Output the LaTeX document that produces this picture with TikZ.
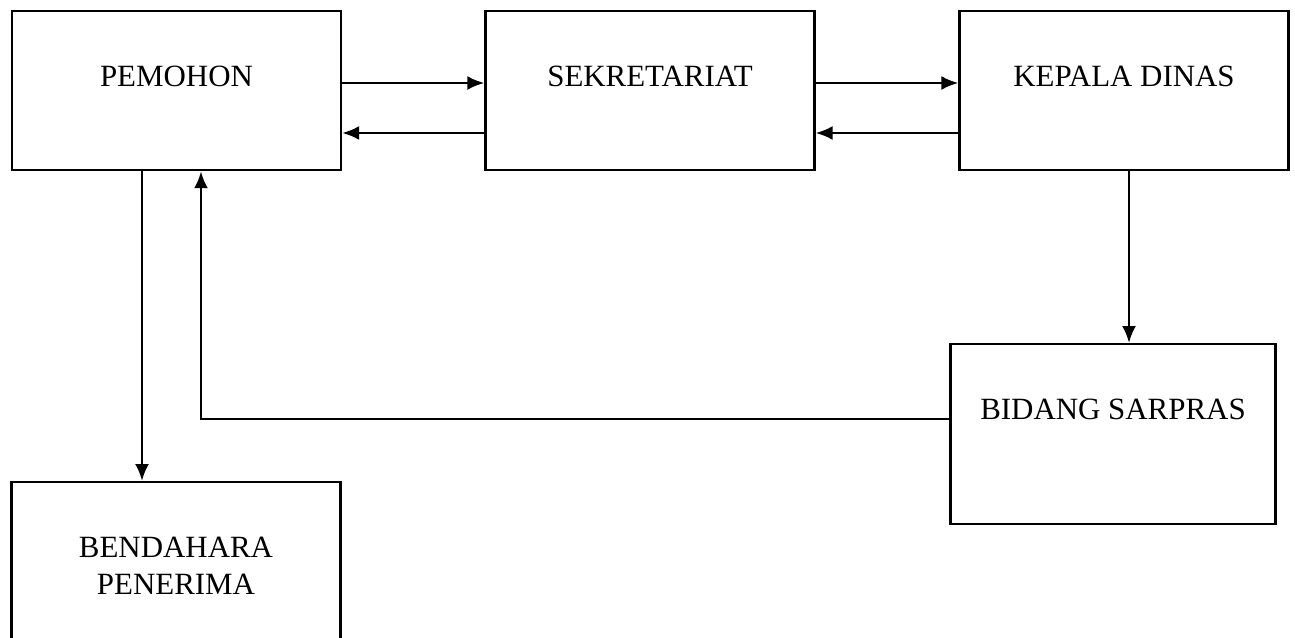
\documentclass[tikz,border=0pt]{standalone}
\usepackage{fontspec}
\setmainfont{Liberation Serif}
\usepackage{tikz}
\usetikzlibrary{arrows.meta}

\begin{document}
\begin{tikzpicture}[x=0.02cm, y=-0.02cm,
  box/.style={draw, line width=1.3pt, anchor=north, minimum width=6.58cm, inner xsep=0pt, inner ysep=1.05cm, text height=0.45cm, align=center, font=\fontsize{17.6}{21}\selectfont},
  flow/.style={line width=1.5pt, -{Latex[length=0.34cm, width=0.28cm]}}]
\useasboundingbox (0,0) rectangle (1295,638);
% boxes
\node[box, text depth=0.63cm](pemohon) at (176.5,10) {PEMOHON};
\node[box, text depth=0.63cm](sekretariat) at (650,10) {SEKRETARIAT};
\node[box, text depth=0.63cm](kepala) at (1124,10) {KEPALA DINAS};
\node[box, text depth=1.05cm, minimum width=6.5cm](bidang) at (1113,343) {BIDANG SARPRAS};
\node[box, text height=1.19cm, text depth=0.29cm](bendahara) at (176,481) {BENDAHARA\\PENERIMA};
%
\draw[flow](pemohon.east |- 0,83) -- (sekretariat.west |- 0,83);
\draw[flow](sekretariat.west |- 0,133) -- (pemohon.east |- 0,133);
\draw[flow](sekretariat.east |- 0,83) -- (kepala.west |- 0,83);
\draw[flow](kepala.west |- 0,133) -- (sekretariat.east |- 0,133);
\draw[flow](kepala.south -| 1129,0) -- (bidang.north -| 1129,0);
\draw[flow](pemohon.south -| 142,0) -- (bendahara.north -| 142,0);
\draw[flow](bidang.west |- 0,419) -| (pemohon.south -| 201,0);
\end{tikzpicture}
\end{document}
